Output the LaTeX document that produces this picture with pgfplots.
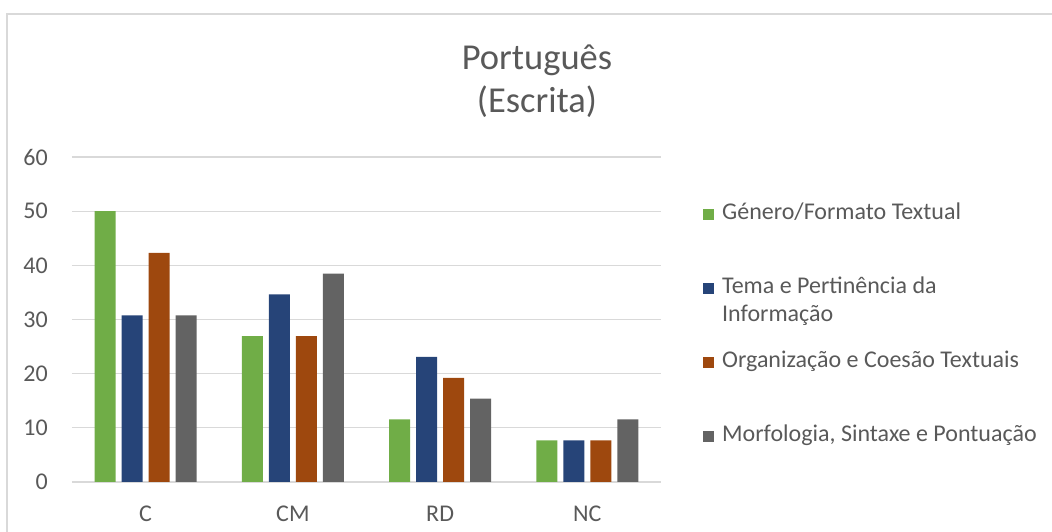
\documentclass[border=0pt]{standalone}
\usepackage{fontspec}
\setmainfont{Carlito}
\usepackage{pgfplots}
\pgfplotsset{compat=1.18}
\definecolor{cG}{HTML}{70AD47}
\definecolor{cB}{HTML}{264478}
\definecolor{cO}{HTML}{9E480E}
\definecolor{cY}{HTML}{636363}
\definecolor{txt}{HTML}{595959}
\definecolor{grd}{HTML}{D9D9D9}
\begin{document}
\begin{tikzpicture}[x=1pt,y=1pt]
\path[use as bounding box] (0,0) rectangle (1052,532);
\draw[grd, line width=1.2pt] (7,0) -- (7,518) -- (1052,518);
\node[anchor=base, font=\fontsize{36.5}{44}\selectfont, text=txt] at (537,462) {Português};
\node[anchor=base, font=\fontsize{36.5}{44}\selectfont, text=txt] at (537,419) {(Escrita)};
\begin{axis}[
  at={(72pt,50pt)}, anchor=south west,
  width=589pt, height=325pt, scale only axis,
  xmin=-0.5, xmax=3.5, ymin=0, ymax=60,
  ytick={0,10,...,60}, xtick={0,1,2,3}, xticklabels={C,CM,RD,NC},
  ymajorgrids, grid style={grd, line width=1.2pt},
  axis line style={draw=none}, major tick length=0pt,
  ybar=6pt, bar width=21pt,
  tick label style={font=\fontsize{24}{29}\selectfont, text=txt},
  /pgf/number format/assume math mode=true,
  yticklabel style={inner sep=0pt, xshift=-24pt},
  xticklabel style={inner sep=0pt, yshift=-24pt},
  sq/.style={legend image code/.code={\fill[##1] (0pt,-1pt) rectangle (11pt,10pt); \path (19pt,0pt);}},
  legend style={draw=none, fill=none, at={(1.0713,0.8615)}, anchor=north west, inner sep=0pt,
    font=\fontsize{24}{28}\selectfont, text=txt, row sep=51pt,
    nodes={inner sep=0pt, text height=17pt, text depth=6pt, anchor=base west}},
]
\addplot[fill=cG, draw=none, sq] coordinates {(0,50) (1,26.92) (2,11.54) (3,7.69)};
\addlegendentry{Género/Formato Textual}
\addplot[fill=cB, draw=none, sq] coordinates {(0,30.77) (1,34.62) (2,23.08) (3,7.69)};
\addlegendentry{\begin{tabular}[t]{@{}l@{}}Tema e Pertinência da\\ Informação\end{tabular}}
\addplot[fill=cO, draw=none, sq] coordinates {(0,42.31) (1,26.92) (2,19.23) (3,7.69)};
\addlegendentry{Organização e Coesão Textuais}
\addplot[fill=cY, draw=none, sq] coordinates {(0,30.77) (1,38.46) (2,15.38) (3,11.54)};
\addlegendentry{Morfologia, Sintaxe e Pontuação}
\end{axis}
\end{tikzpicture}
\end{document}
